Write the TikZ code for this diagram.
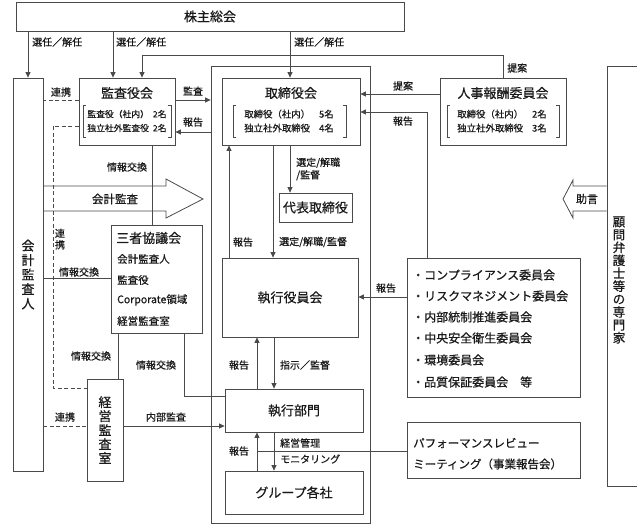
\documentclass[tikz,border=0pt]{standalone}
\usepackage{fontspec}
\setmainfont{Noto Sans CJK JP}[FakeBold=0.6]
\usetikzlibrary{arrows.meta}
\definecolor{lc}{HTML}{4A4A4A}
\definecolor{tc}{HTML}{1A1A1A}
\begin{document}
\begin{tikzpicture}[x=1pt,y=-1pt,
  ln/.style={draw=lc, line width=0.8pt},
  arr/.style={ln, -{Triangle[length=5.5pt,width=5pt]}},
  dsh/.style={ln, dash pattern=on 4pt off 2.5pt},
  box/.style={ln, rectangle, inner sep=0pt, text=tc},
  big/.style={font=\fontsize{13}{15}\selectfont, text=tc},
  lab/.style={font=\fontsize{10}{12}\selectfont, inner sep=0pt, text=tc},
  brk/.style={inner sep=0pt, text=tc, align=left},
  item/.style={font=\fontsize{10.5}{12}\selectfont, inner sep=0pt, anchor=west, text=tc},
  com/.style={font=\fontsize{12}{14}\selectfont, inner sep=0pt, anchor=west, text=tc},
  vert/.style={align=center, inner sep=0pt, text=tc},
]
\useasboundingbox (0,0) rectangle (637,525);

% ---------- boxes ----------
\node[box, big, minimum width=388pt, minimum height=29pt] (kabu) at (210,16.5) {株主総会};
\node[box, minimum width=30pt, minimum height=393pt] (kaikei) at (28,274.5) {};
\node[vert, font=\fontsize{13}{14.5}\selectfont] at (kaikei) {会\\計\\監\\査\\人};

\node[box, minimum width=96pt, minimum height=67pt] (kansa) at (127,111.5) {};
\node[big] at (127,93) {監査役会};
\node[brk, font=\fontsize{8.8}{14}\selectfont] at (127,121) {監査役（社内）\hspace{4pt}2名\\独立社外監査役\hspace{4pt}2名};
\draw[ln] (86,105) -- (83,105) -- (83,137) -- (86,137);
\draw[ln] (168,105) -- (171,105) -- (171,137) -- (168,137);

\node[box, minimum width=159pt, minimum height=457pt] (exec) at (290.5,294.5) {};

\node[box, minimum width=138pt, minimum height=67pt] (tori) at (291,111.5) {};
\node[big] at (291,93) {取締役会};
\node[brk, font=\fontsize{9.4}{14}\selectfont] at (289,121) {取締役（社内）\hspace{9pt}5名\\独立社外取締役\hspace{9pt}4名};
\draw[ln] (236,105) -- (233,105) -- (233,137) -- (236,137);
\draw[ln] (343,105) -- (346,105) -- (346,137) -- (343,137);

\node[box, minimum width=126pt, minimum height=67pt] (jinji) at (503,111.5) {};
\node[big] at (503,93) {人事報酬委員会};
\node[brk, font=\fontsize{9.4}{14}\selectfont] at (502,121) {取締役（社内）\hspace{9pt}2名\\独立社外取締役\hspace{9pt}3名};
\draw[ln] (450,105) -- (447,105) -- (447,137) -- (450,137);
\draw[ln] (556,105) -- (559,105) -- (559,137) -- (556,137);

\node[box, minimum width=33pt, minimum height=420pt] (komon) at (623.5,276) {};
\node[vert, font=\fontsize{12.5}{12.9}\selectfont] at (619,280) {顧\\問\\弁\\護\\士\\等\\の\\専\\門\\家};

\node[box, big, minimum width=73pt, minimum height=29pt] (daihyo) at (315.5,207.5) {代表取締役};
\node[box, big, minimum width=136pt, minimum height=79pt] (shikko) at (290,297.5) {執行役員会};

\node[box, minimum width=173pt, minimum height=139pt] (iinkai) at (493.5,327.5) {};
\node[com] at (412,275) {・コンプライアンス委員会};
\node[com] at (412,296) {・リスクマネジメント委員会};
\node[com] at (412,317) {・内部統制推進委員会};
\node[com] at (412,338) {・中央安全衛生委員会};
\node[com] at (412,360) {・環境委員会};
\node[com] at (412,382) {・品質保証委員会\hspace{12pt}等};

\node[box, minimum width=91pt, minimum height=108pt] (sansha) at (156.5,279) {};
\node[big, anchor=west, inner sep=0pt] at (116,238) {三者協議会};
\node[item] at (117,259) {会計監査人};
\node[item] at (117,280) {監査役};
\node[item] at (117,300) {Corporate領域};
\node[item] at (117,321) {経営監査室};

\node[box, minimum width=36pt, minimum height=102pt] (keiei) at (105,430) {};
\node[vert, font=\fontsize{13}{14}\selectfont] at (keiei) {経\\営\\監\\査\\室};

\node[box, big, minimum width=138pt, minimum height=43pt] (bumon) at (294,410.5) {執行部門};
\node[box, big, minimum width=138pt, minimum height=43pt] (group) at (294,492.5) {グループ各社};

\node[box, minimum width=173pt, minimum height=56pt] (perf) at (493.5,450) {};
\node[com, font=\fontsize{11.5}{14}\selectfont] at (413,443) {パフォーマンスレビュー};
\node[com, font=\fontsize{11.5}{14}\selectfont] at (413,464) {ミーティング（事業報告会）};

% ---------- connectors ----------
\draw[arr] (kabu.south -| kaikei) -- (kaikei.north);
\draw[arr] (kabu.south -| 113,0) -- (kansa.north -| 113,0);
\draw[arr] (kabu.south -| 290,0) -- (tori.north -| 290,0);
\draw[arr] (jinji.north) -- ++(0,-22) -| (kansa.north -| 142,0);

\draw[arr] (kansa.east |- 0,100) -- (exec.west |- 0,100);
\draw[arr] (exec.west |- 0,132) -- (kansa.east |- 0,132);
\draw[arr] (jinji.west |- 0,94) -- (tori.east |- 0,94);
\draw[arr] (iinkai.north -| 427,0) |- (tori.east |- 0,112);

\draw[dsh] (kansa.west |- 0,100) -- (kaikei.east |- 0,100);
\draw[dsh] (kansa.west |- 0,126) -| (53,388) -- (keiei.west |- 0,388);
\draw[ln] (sansha.west |- 0,278) -- (kaikei.east |- 0,278);
\draw[ln] (kansa.south -| 152,0) -- (sansha.north -| 152,0);

\draw[ln] (kaikei.east |- 0,186) -- (166,186) -- (166,179) -- (203,199) -- (166,218) -- (166,211) -- (kaikei.east |- 0,211);
\draw[ln] (komon.west |- 0,186) -- (573,186) -- (573,180) -- (563,199) -- (573,218) -- (573,211) -- (komon.west |- 0,211);

\draw[arr] (tori.south -| 290,0) -- (daihyo.north -| 290,0);
\draw[arr] (tori.south -| 273,0) -- (shikko.north -| 273,0);
\draw[arr] (shikko.north -| 229,0) -- (tori.south -| 229,0);
\draw[arr] (iinkai.west |- 0,297) -- (shikko.east |- 0,297);

\draw[ln] (sansha.south -| 118,0) -- (keiei.north -| 118,0);
\draw[ln] (sansha.south -| 184,0) |- (bumon.west |- 0,396);
\draw[dsh] (kaikei.east |- 0,426) -- (keiei.west |- 0,426);
\draw[arr] (keiei.east |- 0,426) -- (bumon.west |- 0,426);

\draw[arr] (bumon.north -| 257,0) -- (shikko.south -| 257,0);
\draw[arr] (shikko.south -| 274,0) -- (bumon.north -| 274,0);
\draw[arr] (group.north -| 257,0) -- (bumon.south -| 257,0);
\draw[arr] (bumon.south -| 274,0) -- (group.north -| 274,0);
\draw[ln] (perf.west |- 0,451) -- (257,451);

% ---------- labels ----------
\node[lab, anchor=west] at (32,42) {選任／解任};
\node[lab, anchor=west] at (116,42) {選任／解任};
\node[lab, anchor=west] at (294,42) {選任／解任};
\node[lab, anchor=west] at (507,68) {提案};
\node[lab] at (193,91) {監査};
\node[lab] at (193,122) {報告};
\node[lab] at (403,86) {提案};
\node[lab] at (403,121) {報告};
\node[lab] at (61,92) {連携};
\node[lab, align=center, font=\fontsize{10}{11.5}\selectfont] at (60,239) {連\\携};
\node[lab] at (79,272) {情報交換};
\node[lab] at (127,167) {情報交換};
\node[lab, font=\fontsize{11.5}{13}\selectfont] at (115,199) {会計監査};
\node[lab, font=\fontsize{11}{13}\selectfont] at (587,199) {助言};
\node[lab, anchor=west, align=left, font=\fontsize{10}{12.5}\selectfont] at (296,169) {選定/解職\\/監督};
\node[lab, anchor=west] at (279,242) {選定/解職/監督};
\node[lab] at (243,242) {報告};
\node[lab] at (386,288) {報告};
\node[lab] at (91,356) {情報交換};
\node[lab] at (156,365) {情報交換};
\node[lab] at (65,417) {連携};
\node[lab] at (166,417) {内部監査};
\node[lab] at (239,365) {報告};
\node[lab] at (305,365) {指示／監督};
\node[lab] at (239,451) {報告};
\node[lab, anchor=west] at (280,443) {経営管理};
\node[lab, anchor=west] at (280,459) {モニタリング};
\end{tikzpicture}
\end{document}
